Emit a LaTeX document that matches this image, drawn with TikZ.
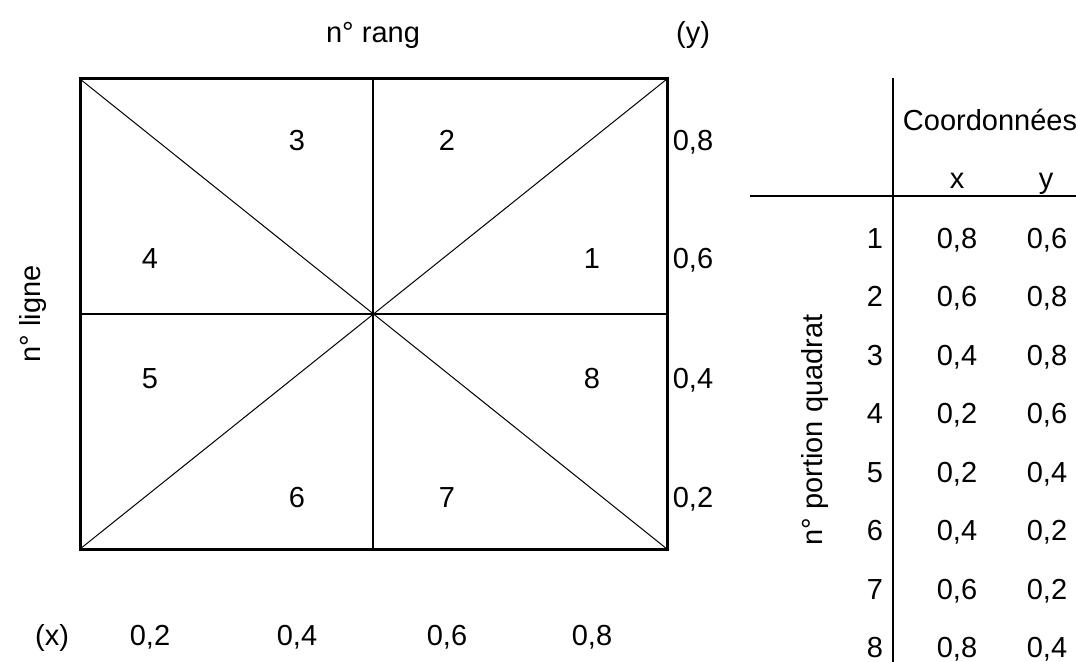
\documentclass[tikz,border=0pt]{standalone}
\usepackage{fontspec}
\setmainfont{Liberation Sans}
\usepackage{tikz}
\usetikzlibrary{positioning, calc}

\begin{document}
\begin{tikzpicture}[
    x=0.5pt, y=-0.5pt,
    lbl/.style={inner sep=0pt, text height=10.4pt, text depth=0pt, font=\fontsize{14.5}{17}\selectfont},
    frame/.style={line width=1.5pt},
    mid/.style={line width=1pt},
    diag/.style={line width=0.5pt},
    rule/.style={line width=1pt}
]
\useasboundingbox (0,0) rectangle (1076,662);

% Quadrat
\coordinate (nw) at (80,79);
\coordinate (ne) at (667,79);
\coordinate (se) at (667,549);
\coordinate (sw) at (80,549);
\coordinate (c) at (373,314);
\coordinate (ntop) at (373,79);
\coordinate (nbot) at (373,549);
\coordinate (wmid) at (80,314);
\coordinate (emid) at (667,314);
\draw[diag] (nw) -- (se);
\draw[diag] (sw) -- (ne);
\draw[mid] (ntop) -- (nbot);
\draw[mid] (wmid) -- (emid);
\draw[frame] (nw) -- (ne) -- (se) -- (sw) -- cycle;

% Portions
\node[lbl] (p1) at (592,258) {1};
\node[lbl] (p2) at (447,140) {2};
\node[lbl] (p3) at (297,140) {3};
\node[lbl] (p4) at (150,258) {4};
\node[lbl] (p5) at (150,378) {5};
\node[lbl] (p6) at (297,497) {6};
\node[lbl] (p7) at (447,497) {7};
\node[lbl] (p8) at (592,378) {8};

% Axes
\node[lbl] (rang) at (373,32) {n° rang};
\node[lbl] (ylab) at (693,32) {(y)};
\node[lbl, rotate=90] (ligne) at (30,314) {n° ligne};
\node[lbl] (xlab) at (52,635) {(x)};
\node[lbl] (x2) at (150,635) {0,2};
\node[lbl] (x4) at (297,635) {0,4};
\node[lbl] (x6) at (447,635) {0,6};
\node[lbl] (x8) at (592,635) {0,8};
\node[lbl] (y8) at (693,140) {0,8};
\node[lbl] (y6) at (693,258) {0,6};
\node[lbl] (y4) at (693,378) {0,4};
\node[lbl] (y2) at (693,497) {0,2};

% Table
\coordinate (vtop) at (893,78);
\coordinate (vbot) at (893,662);
\coordinate (hleft) at (750,196);
\coordinate (hright) at (1076,196);
\draw[rule] (vtop) -- (vbot);
\draw[rule] (hleft) -- (hright);
\node[lbl] (coord) at (990,120) {Coordonnées};
\node[lbl] (colx) at (957,178) {x};
\node[lbl] (coly) at (1046,178) {y};
\node[lbl, rotate=90] (portion) at (812,430) {n° portion quadrat};
\foreach \n/\xv/\yv [count=\i] in {1/{0,8}/{0,6}, 2/{0,6}/{0,8}, 3/{0,4}/{0,8}, 4/{0,2}/{0,6},
    5/{0,2}/{0,4}, 6/{0,4}/{0,2}, 7/{0,6}/{0,2}, 8/{0,8}/{0,4}} {
  \node[lbl] (r\i) at (875,{238+(\i-1)*58.5}) {\n};
  \node[lbl] (rx\i) at (957,{238+(\i-1)*58.5}) {\xv};
  \node[lbl] (ry\i) at (1047,{238+(\i-1)*58.5}) {\yv};
}
\end{tikzpicture}
\end{document}
